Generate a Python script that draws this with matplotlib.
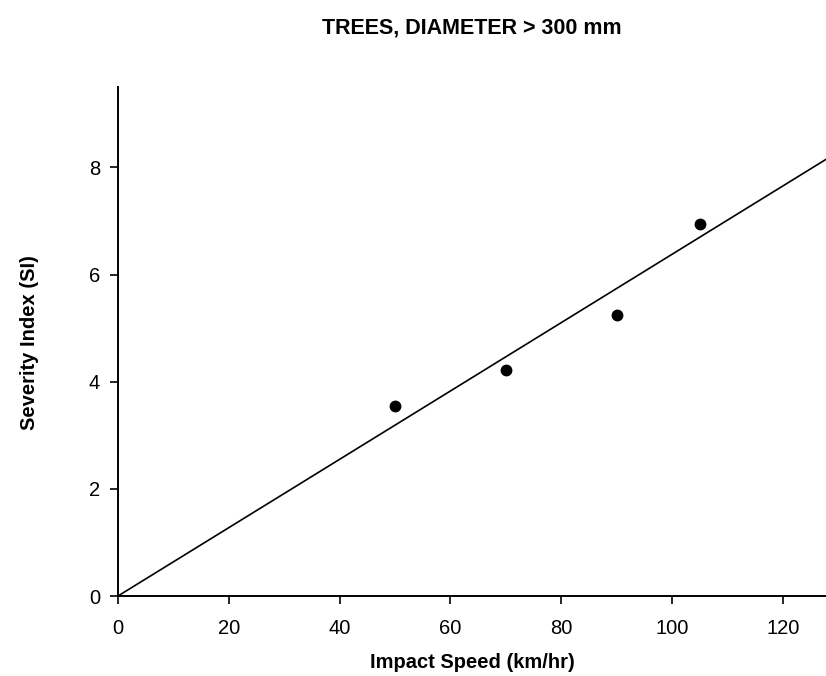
import matplotlib
matplotlib.use("Agg")
import matplotlib.pyplot as plt

plt.rcParams['font.family'] = ['Liberation Sans', 'DejaVu Sans']

# Data
speed = [50, 70, 90, 105]
severity = [3.54, 4.22, 5.24, 6.95]
fit_x = [0, 130]
fit_y = [0, 8.29]

x_ticks = [0, 20, 40, 60, 80, 100, 120]
y_ticks = [0, 2, 4, 6, 8]

W, H = 826, 676
fig = plt.figure(figsize=(W / 100, H / 100), dpi=100)
ax = fig.add_axes([118 / W, 1 - 596 / H, (W - 118) / W, (596 - 87) / H])

ax.plot(fit_x, fit_y, color='black', linewidth=1.2)
ax.plot(speed, severity, 'o', color='black', markersize=7.5)

ax.set_xlim(0, 127.8)
ax.set_ylim(0, 9.5)
ax.set_xticks(x_ticks)
ax.set_yticks(y_ticks)
ax.tick_params(direction='out', length=5.8, width=1.2, labelsize=14.5)
ax.tick_params(axis='x', pad=11)
ax.tick_params(axis='y', pad=7)

for s in ['top', 'right']:
    ax.spines[s].set_visible(False)
for s in ['left', 'bottom']:
    ax.spines[s].set_linewidth(1.4)

fig.text((118 + W) / 2 / W, 1 - 663 / H, 'Impact Speed (km/hr)', ha='center', va='center',
         fontsize=14.5, fontweight='bold')
fig.text(30 / W, 1 - 343 / H, 'Severity Index (SI)', ha='center', va='center',
         rotation=90, fontsize=14.5, fontweight='bold')
fig.text((118 + W) / 2 / W, 1 - 28 / H, 'TREES, DIAMETER > 300 mm', ha='center', va='center',
         fontsize=15.5, fontweight='bold')

fig.savefig('out.png', dpi=100)
